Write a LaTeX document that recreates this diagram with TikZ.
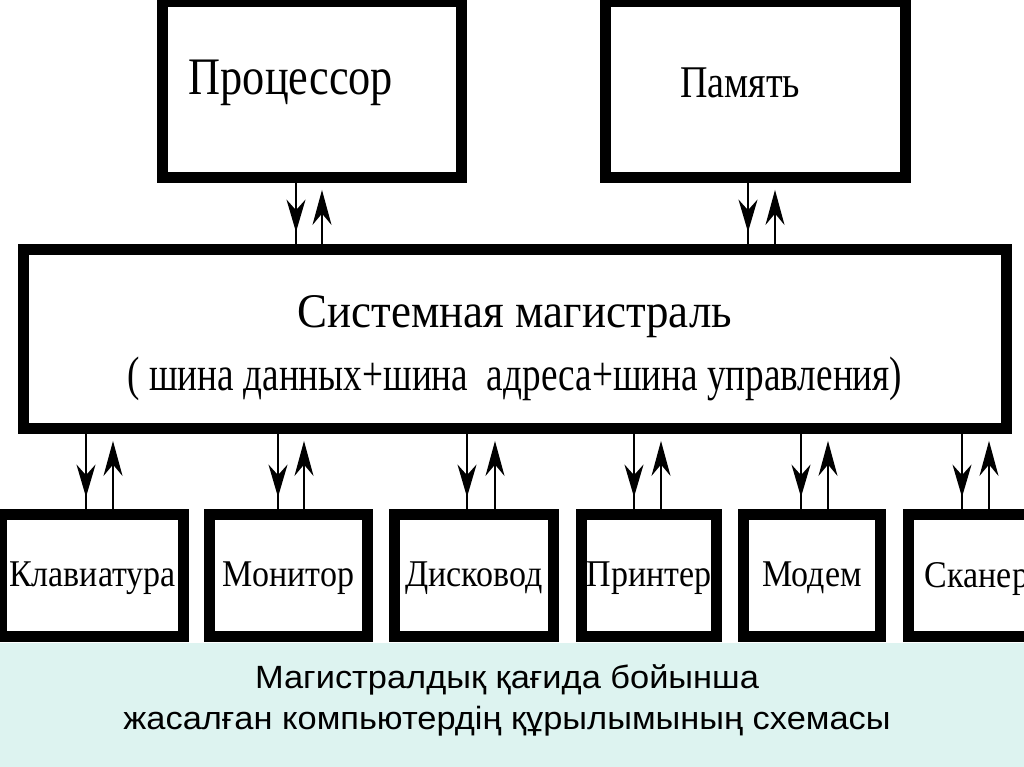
\documentclass[tikz,border=0pt]{standalone}
\usepackage{fontspec}
\setmainfont{Liberation Serif}
\newfontfamily\boxfont[FakeStretch=0.84]{Liberation Serif}
\newfontfamily\busfont[FakeStretch=0.93]{Liberation Serif}
\newfontfamily\busnarrowfont[FakeStretch=0.77]{Liberation Serif}
\newfontfamily\devicefont[FakeStretch=0.9]{Liberation Serif}
\newfontfamily\capfont[FakeStretch=1.07]{Liberation Sans}
\usetikzlibrary{arrows.meta, positioning, calc, decorations.markings}
\definecolor{captionbg}{RGB}{221,243,240}

\begin{document}
\begin{tikzpicture}[
    x=0.02cm, y=-0.02cm,
    unit_box/.style={
        rectangle,
        draw=black,
        fill=white,
        line width=6.2pt,
        inner sep=0pt,
        align=center
    },
    top_box/.style={
        unit_box,
        minimum height=3.52cm,
        font=\boxfont\fontsize{30}{36}\selectfont
    },
    bus_box/.style={
        unit_box,
        minimum width=19.66cm,
        minimum height=3.58cm,
        font=\busfont\fontsize{27.5}{36}\selectfont
    },
    device_box/.style={
        unit_box,
        minimum height=2.44cm,
        text depth=1.1pt,
        font=\devicefont\fontsize{21.5}{26}\selectfont
    },
    caption_text/.style={
        align=center,
        font=\capfont\fontsize{18.3}{23.3}\selectfont
    },
    down_link/.style={
        line width=1.2pt,
        postaction={decorate},
        decoration={markings,
            mark=at position -0.24cm with {\arrow{Stealth[length=0.65cm, width=0.38cm]}}}
    },
    up_link/.style={
        line width=1.2pt,
        -{Stealth[length=0.7cm, width=0.38cm]},
        shorten >=0.14cm
    }
]
\useasboundingbox (0,0) rectangle (1024,767);
\clip (0,0) rectangle (1024,767);

% Caption band
\fill[captionbg] (0,643) rectangle (1024,767);
\node[caption_text] (caption) at (507,700) {Магистралдық қағида бойынша\\жасалған компьютердің құрылымының схемасы};

% Processor and memory
\node[top_box, minimum width=5.98cm, text depth=13.7pt] (proc) at (312,89.5) {Процессор\hspace*{0.84cm}};
\node[top_box, minimum width=6.00cm, text depth=7.3pt, font=\boxfont\fontsize{25.8}{30}\selectfont] (mem) at (755.5,89.5) {Память\hspace*{0.62cm}};

% System bus
\node[bus_box] (bus) at (515,339) {\rule{0pt}{28.3pt}Системная магистраль\\{\busnarrowfont( шина данных+шина~ адреса+шина управления)}};

% Peripheral devices
\node[device_box, minimum width=3.64cm] (keyb) at (92.5,575.5) {Клавиатура};
\node[device_box, minimum width=3.16cm] (monitor) at (288.5,575.5) {Монитор};
\node[device_box, minimum width=3.18cm] (disk) at (474,575.5) {Дисковод};
\node[device_box, minimum width=2.70cm] (printer) at (649,575.5) {Принтер};
\node[device_box, minimum width=2.74cm] (modem) at (812,575.5) {Модем};
\node[device_box, minimum width=2.74cm] (scanner) at (977,575.5) {Сканер};

% Links to the bus (down and up)
\draw[down_link] (296,0 |- proc.south) -- (296,0 |- bus.north);
\draw[up_link] (322,0 |- bus.north) -- (322,0 |- proc.south);
\draw[down_link] (748,0 |- mem.south) -- (748,0 |- bus.north);
\draw[up_link] (775,0 |- bus.north) -- (775,0 |- mem.south);

\draw[down_link] (86,0 |- bus.south) -- (86,0 |- keyb.north);
\draw[up_link] (113,0 |- keyb.north) -- (113,0 |- bus.south);
\draw[down_link] (278,0 |- bus.south) -- (278,0 |- monitor.north);
\draw[up_link] (304,0 |- monitor.north) -- (304,0 |- bus.south);
\draw[down_link] (467,0 |- bus.south) -- (467,0 |- disk.north);
\draw[up_link] (495,0 |- disk.north) -- (495,0 |- bus.south);
\draw[down_link] (634,0 |- bus.south) -- (634,0 |- printer.north);
\draw[up_link] (661,0 |- printer.north) -- (661,0 |- bus.south);
\draw[down_link] (801,0 |- bus.south) -- (801,0 |- modem.north);
\draw[up_link] (828,0 |- modem.north) -- (828,0 |- bus.south);
\draw[down_link] (962,0 |- bus.south) -- (962,0 |- scanner.north);
\draw[up_link] (989,0 |- scanner.north) -- (989,0 |- bus.south);

\end{tikzpicture}
\end{document}
